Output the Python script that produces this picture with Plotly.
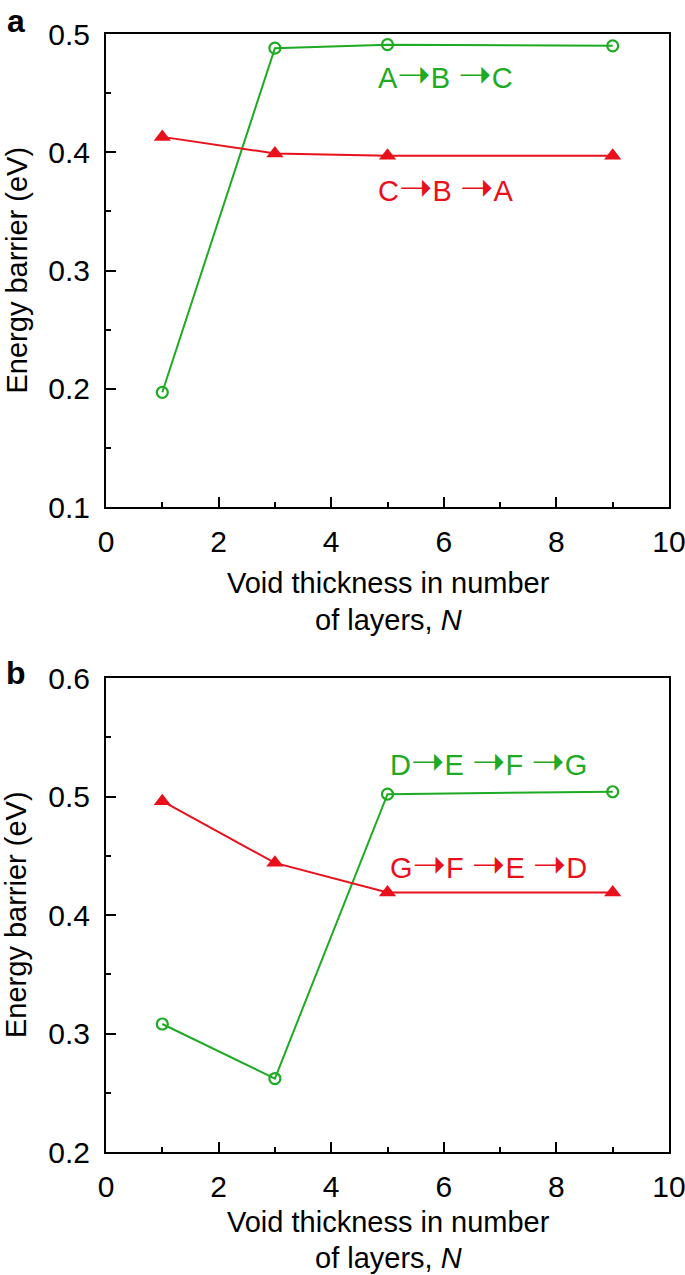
import plotly.graph_objects as go

# ---- data ----
N = [1, 3, 5, 9]
a_abc = [0.197, 0.488, 0.491, 0.490]   # A->B->C (green, open circles)
a_cba = [0.413, 0.399, 0.397, 0.397]   # C->B->A (red, triangles)
b_defg = [0.308, 0.262, 0.502, 0.504]  # D->E->F->G
b_gfed = [0.496, 0.444, 0.419, 0.419]  # G->F->E->D

x_ticks = [0, 2, 4, 6, 8, 10]
ya_ticks = [0.1, 0.2, 0.3, 0.4, 0.5]
yb_ticks = [0.2, 0.3, 0.4, 0.5, 0.6]

GREEN = "#1eaa22"
RED = "#e8101a"
FONT = "Liberation Sans, Arial, Helvetica, sans-serif"
W, H = 685, 1275

def px(x):
    return x / W

def py(y):
    return 1 - y / H

fig = go.Figure()

def add_series(xs, ys, xa, ya, color, symbol):
    if symbol == "circle-open":
        mk = dict(symbol="circle-open", size=11, color=color, line=dict(width=2.2, color=color))
    else:
        mk = dict(symbol="triangle-up", size=15, color=color, line=dict(width=0))
    fig.add_trace(go.Scatter(x=xs, y=ys, mode="lines+markers", xaxis=xa, yaxis=ya,
                             line=dict(color=color, width=2), marker=mk, showlegend=False))

add_series(N, a_abc, "x", "y", GREEN, "circle-open")
add_series(N, a_cba, "x", "y", RED, "triangle-up")
add_series(N, b_defg, "x2", "y2", GREEN, "circle-open")
add_series(N, b_gfed, "x2", "y2", RED, "triangle-up")

x_dom = [px(106), px(669)]
ya_dom = [py(507), py(34)]
yb_dom = [py(1152), py(678)]

def xaxis(anchor):
    return dict(domain=x_dom, anchor=anchor, range=[0, 10], tickmode="array", tickvals=x_ticks,
                ticktext=[str(v) for v in x_ticks], automargin=False, ticklabeloverflow="allow",
                ticklabelstandoff=7,
                ticks="inside", ticklen=10, tickwidth=2, tickcolor="black",
                minor=dict(tickvals=[1, 3, 5, 7, 9], ticks="inside", ticklen=5, tickwidth=2, tickcolor="black"),
                showline=True, linecolor="black", linewidth=2, mirror=True,
                showgrid=False, zeroline=False,
                tickfont=dict(family=FONT, size=30, color="black"))

def yaxis(anchor, dom, rng, ticks):
    minors = [round(t + 0.05, 2) for t in ticks[:-1]]
    return dict(domain=dom, anchor=anchor, range=rng, tickmode="array", tickvals=ticks,
                ticktext=["%.1f" % t for t in ticks], automargin=False, ticklabeloverflow="allow",
                ticklabelstandoff=8,
                ticks="inside", ticklen=10, tickwidth=2, tickcolor="black",
                minor=dict(tickvals=minors, ticks="inside", ticklen=5, tickwidth=2, tickcolor="black"),
                showline=True, linecolor="black", linewidth=2, mirror=True,
                showgrid=False, zeroline=False,
                tickfont=dict(family=FONT, size=30, color="black"))

fig.update_layout(
    template="none",
    width=W, height=H, autosize=False,
    margin=dict(l=0, r=0, t=0, b=0),
    paper_bgcolor="white", plot_bgcolor="white",
    xaxis=xaxis("y"), yaxis=yaxis("x", ya_dom, [0.1, 0.5], ya_ticks),
    xaxis2=xaxis("y2"), yaxis2=yaxis("x2", yb_dom, [0.2, 0.6], yb_ticks),
)

ARROW = '<span style="font-family:DejaVu Sans;font-size:40px">\u279d</span>'

ann = []
# panel labels
ann.append(dict(text="<b>a</b>", x=px(16), y=py(21), xref="paper", yref="paper", showarrow=False,
                font=dict(family=FONT, size=32, color="black"), xanchor="center", yanchor="middle"))
ann.append(dict(text="<b>b</b>", x=px(16), y=py(673), xref="paper", yref="paper", showarrow=False,
                font=dict(family=FONT, size=32, color="black"), xanchor="center", yanchor="middle"))
# axis titles
for ycen in [(34 + 507) / 2, (678 + 1152) / 2]:
    ann.append(dict(text="Energy barrier (eV)", x=px(16), y=py(ycen), xref="paper", yref="paper",
                    showarrow=False, textangle=-90, font=dict(family=FONT, size=29, color="black"),
                    xanchor="center", yanchor="middle"))
for y1, y2 in [(583, 620), (1222, 1258)]:
    ann.append(dict(text="Void thickness in number", x=px(388), y=py(y1), xref="paper", yref="paper",
                    showarrow=False, font=dict(family=FONT, size=29, color="black"),
                    xanchor="center", yanchor="middle"))
    ann.append(dict(text="of layers, <i>N</i>", x=px(388), y=py(y2), xref="paper", yref="paper",
                    showarrow=False, font=dict(family=FONT, size=29, color="black"),
                    xanchor="center", yanchor="middle"))
# series labels
ann.append(dict(text="A" + ARROW + "B " + ARROW + "C", x=4.8, y=0.466, xref="x", yref="y", showarrow=False,
                xanchor="left", yanchor="middle", font=dict(family=FONT, size=29, color=GREEN)))
ann.append(dict(text="C" + ARROW + "B " + ARROW + "A", x=4.8, y=0.371, xref="x", yref="y", showarrow=False,
                xanchor="left", yanchor="middle", font=dict(family=FONT, size=29, color=RED)))
ann.append(dict(text="D" + ARROW + "E " + ARROW + "F " + ARROW + "G", x=5.0, y=0.530, xref="x2", yref="y2",
                showarrow=False, xanchor="left", yanchor="middle", font=dict(family=FONT, size=29, color=GREEN)))
ann.append(dict(text="G" + ARROW + "F " + ARROW + "E " + ARROW + "D", x=5.0, y=0.443, xref="x2", yref="y2",
                showarrow=False, xanchor="left", yanchor="middle", font=dict(family=FONT, size=29, color=RED)))
fig.update_layout(annotations=ann)

fig.write_html("out.html", config={"displayModeBar": False},
               post_script="document.body.style.margin='0px';document.body.style.overflow='hidden';")
